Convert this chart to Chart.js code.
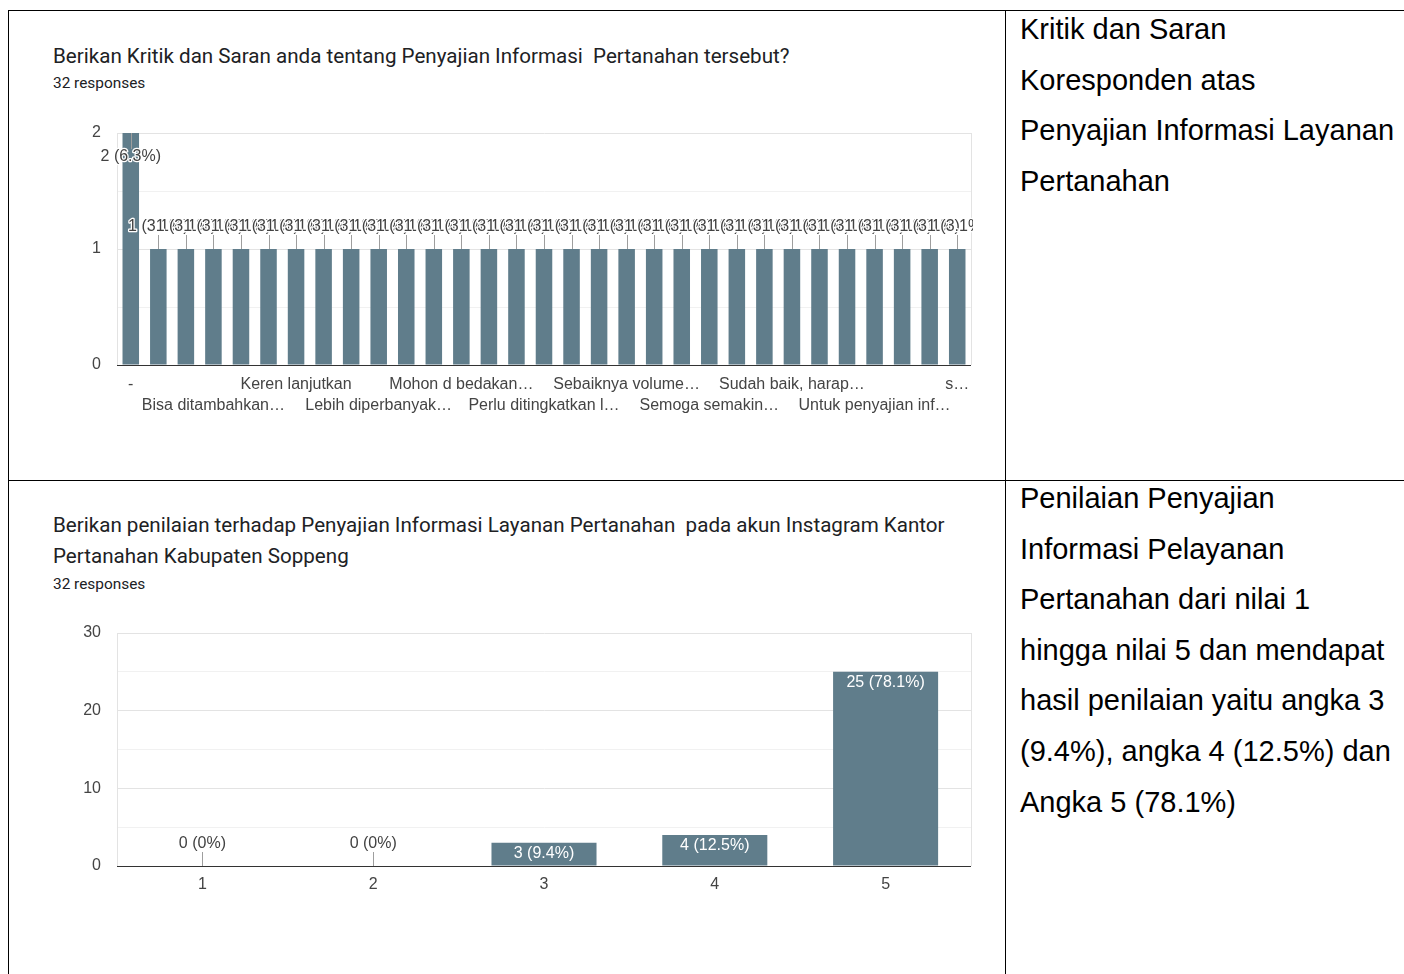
<!DOCTYPE html>
<html>
<head>
<meta charset="utf-8">
<script src="https://cdn.jsdelivr.net/npm/chart.js@4/dist/chart.umd.min.js"></script>
<style>
  body { margin: 0; width: 1404px; height: 974px; background: #fff; position: relative; overflow: hidden; }
  .rule { position: absolute; background: #000; }
  .q { position: absolute; left: 53px; font-family: Roboto, sans-serif; color: #202124; white-space: pre; }
  .title { font-size: 20.6px; line-height: 31px; }
  .resp { font-size: 15.4px; line-height: 20px; }
  .note { position: absolute; left: 1020px; font-family: "Liberation Sans", Arial, sans-serif; font-size: 29px; line-height: 50.6px; color: #000; white-space: pre; }
  canvas { position: absolute; }
</style>
</head>
<body>
<!-- table rules -->
<div class="rule" style="left:8px; top:10px; width:1396px; height:1px;"></div>
<div class="rule" style="left:8px; top:10px; width:1px; height:964px;"></div>
<div class="rule" style="left:1005px; top:10px; width:1px; height:964px;"></div>
<div class="rule" style="left:8px; top:480px; width:1396px; height:1px;"></div>

<div class="q title" style="top:41px;">Berikan Kritik dan Saran anda tentang Penyajian Informasi  Pertanahan tersebut?</div>
<div class="q resp" style="top:73px;">32 responses</div>
<canvas id="saranChart" width="945" height="300" style="left:40px; top:120px;"></canvas>

<div class="q title" style="top:510px;">Berikan penilaian terhadap Penyajian Informasi Layanan Pertanahan  pada akun Instagram Kantor
Pertanahan Kabupaten Soppeng</div>
<div class="q resp" style="top:574px;">32 responses</div>
<canvas id="nilaiChart" width="945" height="290" style="left:40px; top:620px;"></canvas>

<div class="note" style="top:4px;">Kritik dan Saran
Koresponden atas
Penyajian Informasi Layanan
Pertanahan</div>
<div class="note" style="top:473px;">Penilaian Penyajian
Informasi Pelayanan
Pertanahan dari nilai 1
hingga nilai 5 dan mendapat
hasil penilaian yaitu angka 3
(9.4%), angka 4 (12.5%) dan
Angka 5 (78.1%)</div>

<script>
// answers to "Kritik dan Saran" (only every third label is readable in the picture)
const saranLabels = [
  '-', '', '', 'Bisa ditambahkan…', '', '', 'Keren lanjutkan', '', '',
  'Lebih diperbanyak…', '', '', 'Mohon d bedakan…', '', '', 'Perlu ditingkatkan l…',
  '', '', 'Sebaiknya volume…', '', '', 'Semoga semakin…', '', '', 'Sudah baik, harap…',
  '', '', 'Untuk penyajian inf…', '', '', 's…'
];
const saranCounts = [
  2, 1, 1, 1, 1, 1, 1, 1, 1, 1, 1, 1, 1, 1, 1, 1,
  1, 1, 1, 1, 1, 1, 1, 1, 1, 1, 1, 1, 1, 1, 1
];
const nilaiLabels = ['1', '2', '3', '4', '5'];
const nilaiCounts = [0, 0, 3, 4, 25];

const barColor = '#607d8b';
const axisFont = { family: '"Liberation Sans", Arial, sans-serif', size: 16, lineHeight: 1.32 };

// light frame around the plot and dark zero line
const frame = {
  id: 'frame',
  beforeDatasetsDraw(chart) {
    const { ctx, chartArea: a } = chart;
    ctx.save();
    ctx.strokeStyle = '#e3e3e3';
    ctx.lineWidth = 1;
    ctx.beginPath();
    ctx.moveTo(Math.round(a.right) + 0.5, a.top);
    ctx.lineTo(Math.round(a.right) + 0.5, a.bottom);
    ctx.stroke();
    ctx.restore();
  },
  afterDatasetsDraw(chart) {
    const { ctx, chartArea: a } = chart;
    const y0 = Math.round(chart.scales.y.getPixelForValue(0)) + 0.5;
    ctx.save();
    ctx.strokeStyle = '#333';
    ctx.lineWidth = 1;
    ctx.beginPath();
    ctx.moveTo(a.left, y0);
    ctx.lineTo(a.right, y0);
    ctx.stroke();
    ctx.restore();
  }
};

// Google style "n (p%)" annotations with a stem
const annotate = {
  id: 'annotate',
  afterDatasetsDraw(chart) {
    const { ctx, chartArea } = chart;
    const data = chart.data.datasets[0].data;
    const total = data.reduce((s, v) => s + v, 0);
    ctx.save();
    ctx.beginPath();
    ctx.rect(0, 0, chartArea.right + 2, chart.height);
    ctx.clip();
    ctx.font = '16px "Liberation Sans", Arial, sans-serif';
    ctx.textAlign = 'center';
    ctx.textBaseline = 'middle';
    chart.getDatasetMeta(0).data.forEach((el, i) => {
      const v = data[i];
      const text = `${v} (${Math.round(v / total * 1000) / 10}%)`;
      const { x, y, base, width } = el.getProps(['x', 'y', 'base', 'width'], true);
      const w = ctx.measureText(text).width;
      if (w < width - 6 && base - y > 20) {
        ctx.fillStyle = '#fff';
        ctx.fillText(text, x, y + 11);
        return;
      }
      let ty;
      let stemEnd;
      if (y - 32 > chartArea.top) {
        ty = y - 22;
        stemEnd = y - 14;
      } else {
        ty = y + 24;
        stemEnd = y + 16;
      }
      const sx = Math.round(x) + 0.5;
      ctx.strokeStyle = '#9e9e9e';
      ctx.lineWidth = 1;
      ctx.beginPath();
      ctx.moveTo(sx, y);
      ctx.lineTo(sx, stemEnd);
      ctx.stroke();
      ctx.lineWidth = 2.5;
      ctx.lineJoin = 'round';
      ctx.strokeStyle = '#fff';
      ctx.strokeText(text, x, ty);
      ctx.fillStyle = '#424242';
      ctx.fillText(text, x, ty);
    });
    ctx.restore();
  }
};

function barOptions(step, major, max, xHeight, xPad, tickCb) {
  return {
    responsive: false,
    animation: false,
    layout: { padding: { top: 13, right: 14, left: 0, bottom: 0 } },
    plugins: { legend: { display: false }, tooltip: { enabled: false } },
    scales: {
      x: {
        grid: { display: false, drawTicks: false },
        border: { display: false },
        ticks: {
          autoSkip: false, maxRotation: 0, minRotation: 0,
          padding: xPad, color: '#444', font: axisFont,
          callback: tickCb
        },
        afterFit(scale) { scale.height = xHeight; }
      },
      y: {
        min: 0, max,
        grid: {
          drawTicks: false,
          color: (c) => (c.tick.value % major === 0 ? '#e3e3e3' : '#f1f1f1')
        },
        border: { display: true, color: '#e3e3e3' },
        ticks: {
          stepSize: step, padding: 16, color: '#444', font: axisFont,
          callback: (v) => (v % major === 0 ? v : '')
        },
        afterFit(scale) {
          scale.width = 77;
          scale.paddingTop = 0;
          scale.paddingBottom = 0;
        }
      }
    }
  };
}

new Chart(document.getElementById('saranChart'), {
  type: 'bar',
  data: {
    labels: saranLabels,
    datasets: [{ data: saranCounts, backgroundColor: barColor, categoryPercentage: 1, barPercentage: 0.6 }]
  },
  options: barOptions(0.5, 1, 2, 55, 9, (v, i) => {
    const label = saranLabels[i];
    return Math.floor(i / 3) % 2 === 0 ? label : ['', label];
  }),
  plugins: [frame, annotate]
});

new Chart(document.getElementById('nilaiChart'), {
  type: 'bar',
  data: {
    labels: nilaiLabels,
    datasets: [{ data: nilaiCounts, backgroundColor: barColor, categoryPercentage: 1, barPercentage: 0.615 }]
  },
  options: barOptions(5, 10, 30, 44, 8, (v, i) => nilaiLabels[i]),
  plugins: [frame, annotate]
});
</script>
</body>
</html>
